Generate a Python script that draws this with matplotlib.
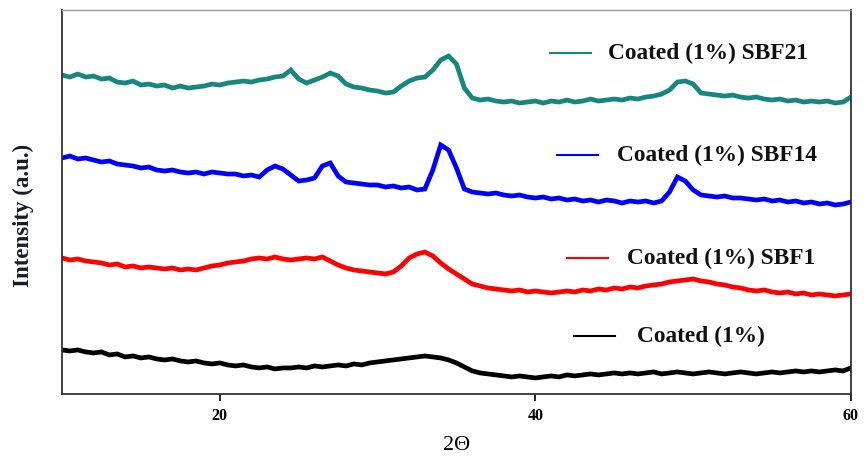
import numpy as np
import matplotlib
matplotlib.use('Agg')
from matplotlib import pyplot as plt

plt.rcParams['font.family'] = ['Liberation Serif', 'DejaVu Serif']

# 2-theta grid of the readings (degrees)
two_theta = np.arange(10, 60.01, 0.5)

# traces, as distance below the top of the frame
sbf21_read = [75, 77, 74, 77, 76, 79, 78, 82, 83, 81, 85, 84, 86, 85, 88, 86, 88, 87, 86, 84,
              85, 83, 82, 81, 82, 80, 79, 77, 76, 70, 79, 83, 80, 77, 73, 76, 84, 87, 88, 90,
              91, 93, 92, 86, 81, 78, 77, 70, 60, 56, 64, 88, 98, 100, 99, 101, 102, 101, 103, 102,
              101, 103, 101, 102, 100, 102, 101, 99, 101, 100, 99, 100, 98, 99, 97, 96, 94, 90, 82, 81,
              84, 93, 94, 95, 96, 95, 97, 98, 97, 99, 100, 99, 101, 100, 102, 101, 102, 101, 103, 102,
              97]
sbf14_read = [158, 156, 159, 158, 160, 162, 161, 164, 165, 166, 168, 167, 170, 171, 170, 172, 173, 172, 174, 172,
              173, 174, 174, 176, 175, 177, 170, 166, 169, 175, 181, 180, 178, 166, 163, 176, 182, 183, 184, 185,
              185, 187, 186, 188, 187, 190, 189, 170, 145, 150, 168, 189, 192, 193, 194, 193, 195, 196, 195, 197,
              198, 197, 199, 198, 200, 199, 201, 200, 202, 200, 201, 203, 201, 202, 201, 203, 201, 192, 177, 181,
              190, 195, 196, 197, 196, 198, 198, 199, 200, 199, 201, 200, 202, 201, 203, 202, 204, 203, 205, 204,
              202]
sbf1_read = [258, 260, 259, 261, 262, 263, 265, 264, 267, 266, 268, 267, 268, 269, 268, 270, 269, 270, 268, 266,
             265, 263, 262, 261, 259, 258, 259, 257, 259, 260, 259, 258, 259, 257, 261, 265, 268, 270, 271, 272,
             273, 274, 272, 266, 258, 254, 252, 256, 263, 269, 274, 279, 284, 286, 288, 289, 290, 291, 290, 292,
             291, 292, 293, 292, 291, 292, 290, 291, 289, 290, 288, 289, 287, 288, 286, 285, 284, 282, 281, 280,
             279, 281, 282, 284, 285, 287, 288, 290, 291, 290, 292, 293, 292, 294, 293, 295, 294, 295, 296, 295,
             294]
coated_read = [350, 351, 350, 352, 353, 352, 355, 354, 357, 356, 358, 357, 359, 360, 359, 361, 362, 361, 363, 364,
               363, 365, 366, 365, 367, 368, 367, 369, 368, 368, 367, 368, 366, 367, 366, 365, 366, 364, 365, 363,
               362, 361, 360, 359, 358, 357, 356, 357, 358, 360, 363, 367, 371, 373, 374, 375, 376, 377, 376, 377,
               378, 377, 376, 377, 375, 376, 375, 374, 375, 374, 373, 374, 373, 374, 373, 372, 374, 373, 372, 373,
               374, 373, 372, 373, 374, 373, 372, 373, 374, 373, 372, 373, 372, 371, 372, 371, 372, 371, 370, 371,
               368]

top = 400
sbf21 = top - np.array(sbf21_read)
sbf14 = top - np.array(sbf14_read)
sbf1 = top - np.array(sbf1_read)
coated = top - np.array(coated_read)

labels = ['Coated (1%) SBF21', 'Coated (1%) SBF14', 'Coated (1%) SBF1', 'Coated (1%)']
colors = ['#16877c', '#0000ff', '#ff0000', '#000000']

fig = plt.figure(figsize=(8.67, 4.57), dpi=100)
ax = fig.add_axes([0.0715, 0.138, 0.91, 0.84])

for y, c in zip([sbf21, sbf14, sbf1, coated], colors):
    ax.plot(two_theta, y, color=c, linewidth=3.4, solid_joinstyle='miter')

# labels drawn as short line + text beside each trace
label_pos = [(0.618, 0.692, 0.888), (0.627, 0.703, 0.622), (0.640, 0.716, 0.354), (0.649, 0.729, 0.151)]
for (x0, xt, yy), lab, c in zip(label_pos, labels, colors):
    ax.plot([x0, x0 + 0.052], [yy, yy], color=c, linewidth=1.5, transform=ax.transAxes)
    ax.text(xt, yy, lab, transform=ax.transAxes, fontsize=16.8, fontweight='bold',
            va='center', ha='left', color='#111111')

ax.set_xlim(10, 60)
ax.set_ylim(6, 390)
ax.set_xticks([20, 40, 60])
ax.set_yticks([])
ax.tick_params(axis='x', direction='out', length=5, width=1.2, pad=5, labelsize=11.5)
for lab in ax.get_xticklabels():
    lab.set_fontweight('bold')

for s in ['left', 'bottom', 'right']:
    ax.spines[s].set_linewidth(1.3)
    ax.spines[s].set_color('#333333')
ax.spines['top'].set_color('#999999')
ax.spines['top'].set_linewidth(1.0)

ax.set_xlabel('2Θ', fontsize=16, labelpad=9)
ax.set_ylabel('Intensity (a.u.)', fontsize=16.5, fontweight='bold', color='#1a1a2e')
ax.yaxis.set_label_coords(-0.036, 0.466)

plt.savefig('out.png', dpi=100)
